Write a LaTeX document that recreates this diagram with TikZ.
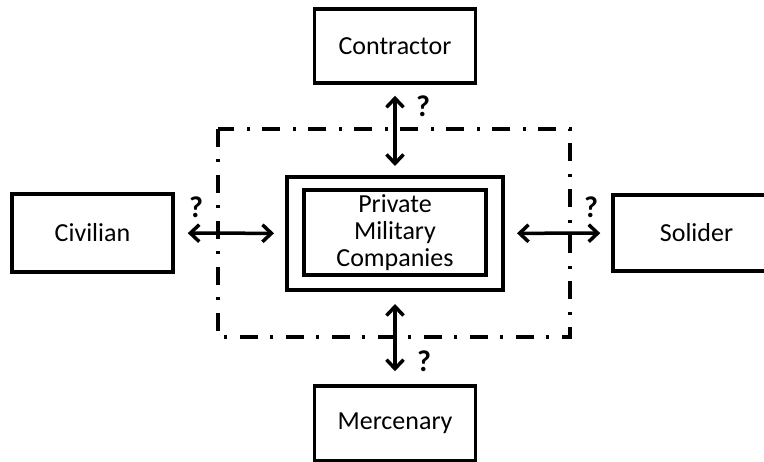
\documentclass[tikz,border=0pt]{standalone}
\usepackage{fontspec}
\setmainfont{Carlito}
\usetikzlibrary{arrows.meta}
\begin{document}
\begin{tikzpicture}[x=1pt,y=-1pt,
  box/.style={draw, line width=3.5pt, inner sep=0pt, align=center,
    font=\fontsize{26}{27}\selectfont},
  qm/.style={font=\bfseries\fontsize{30}{30}\selectfont, inner sep=0pt},
  biarrow/.style={line width=3.5pt, {Straight Barb[length=9pt,width=17pt,line width=3.5pt]}-{Straight Barb[length=9pt,width=17pt,line width=3.5pt]}},
  dashdot/.style={line width=3.5pt, dash pattern=on 18pt off 12pt on 3pt off 13pt}]
\clip (0,0) rectangle (764,462);
\useasboundingbox (0,0) rectangle (764,462);
\fill[white] (0,0) rectangle (764,462);

\draw[dashdot] (218,129) rectangle (570,337);

\node[box, minimum width=216pt, minimum height=113pt, line width=4pt] (outer) at (395,233.5) {};
\node[box, minimum width=182pt, minimum height=85pt, line width=4.5pt] (inner) at (395,232.5) {Private\\Military\\Companies};

\node[box, minimum width=161pt, minimum height=74pt] (contractor) at (395,46) {Contractor};
\node[box, minimum width=161pt, minimum height=78pt] (civilian) at (92.5,233) {Civilian};
\node[box, minimum width=167pt, minimum height=76pt] (solider) at (696.5,233) {Solider};
\node[box, minimum width=161pt, minimum height=75pt] (mercenary) at (395,423.5) {Mercenary};

\draw[biarrow, shorten <=11pt, shorten >=9pt] (contractor) -- (outer);
\draw[biarrow, shorten <=12pt, shorten >=13pt] (outer) -- (mercenary);
\draw[biarrow, shorten <=13pt, shorten >=11pt] (civilian) -- (outer);
\draw[biarrow, shorten <=12pt, shorten >=11pt] (outer) -- (solider);

\node[qm] (q1) at (423,106) {?};
\node[qm] (q2) at (196,207) {?};
\node[qm] (q3) at (591,207) {?};
\node[qm] (q4) at (424,361) {?};
\end{tikzpicture}
\end{document}
